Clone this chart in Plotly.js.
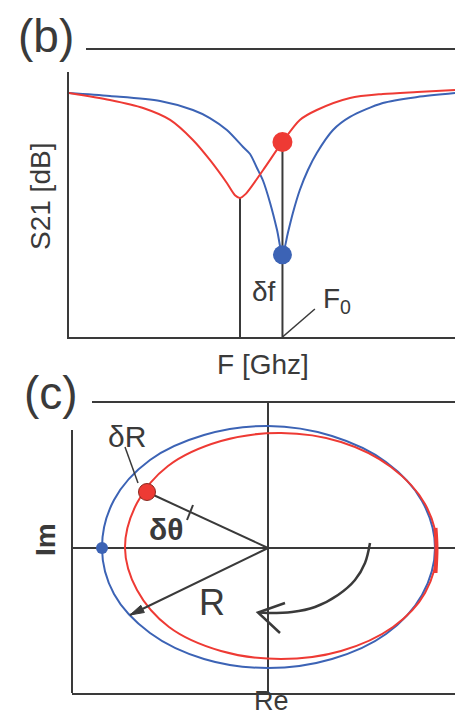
<!DOCTYPE html>
<html>
<head>
<meta charset="utf-8">
<script src="https://cdn.plot.ly/plotly-3.0.1.min.js"></script>
<style>
  html, body { margin: 0; padding: 0; background: #fff; }
  #chart { width: 455px; height: 717px; }
</style>
</head>
<body>
<div id="chart"></div>
<script>
// ---- (b) transmission S21 versus frequency ----
const freqShifted = [0, 1.06, 1.92, 2.62, 3.21, 3.65, 4.09, 4.30, 4.43, 4.58, 5.03, 5.53, 5.98, 6.42, 7.28, 8.13, 9.02, 10];
const s21Shifted  = [-2.38, -3.17, -4.08, -5.43, -7.70, -9.96, -12.57, -13.95, -14.26, -13.8, -11.09, -7.92, -5.43, -4.30, -2.94, -2.49, -2.26, -2.04];

const freqResonant = [0, 1.06, 2.36, 3.21, 3.65, 4.09, 4.51, 4.69, 4.87, 5.03, 5.21, 5.39, 5.53, 5.67, 5.80, 5.98, 6.19, 6.42, 6.84, 7.28, 8.13, 9.02, 10];
const s21Resonant  = [-2.38, -2.72, -3.28, -4.30, -5.21, -6.57, -8.49, -9.28, -10.87, -12.34, -14.83, -17.89, -20.7, -18.23, -15.96, -13.36, -11.09, -9.17, -6.57, -5.09, -3.51, -2.83, -2.38];

const F0 = 5.53;                 // readout frequency
const s21ShiftedAtF0 = -7.92;    // shifted resonance read at F0
const s21ResonantAtF0 = -20.7;   // unshifted resonance read at F0
const fShiftedMin = 4.43;        // shifted resonance dip
const s21ShiftedMin = -14.26;
const s21Floor = -30;
const f0Leader = [[5.53, 6.37], [-30, -26.83]];

// ---- (c) resonance circle in the complex plane ----
const reResonant = [1.67, 1.54, 1.18, 0.64, 0, -0.64, -1.18, -1.54, -1.66, -1.54, -1.18, -0.64, 0, 0.64, 1.18, 1.54, 1.67];
const imResonant = [0, 0.47, 0.86, 1.12, 1.22, 1.13, 0.88, 0.48, 0, -0.46, -0.85, -1.11, -1.20, -1.11, -0.86, -0.47, 0];

const reShifted = [1.69, 1.57, 1.23, 0.73, 0.13, -0.47, -1.00, -1.31, -1.43, -1.31, -0.99, -0.47, 0.13, 0.73, 1.25, 1.57, 1.69];
const imShifted = [0, 0.44, 0.81, 1.06, 1.15, 1.07, 0.82, 0.45, 0, -0.42, -0.79, -1.03, -1.11, -1.03, -0.79, -0.45, 0];
const shiftedSeam = [[1.675, 1.685, 1.675], [0.2, 0, -0.25]];

const pointShifted = [-1.21, 0.56];
const pointResonant = [-1.66, 0.0];
const radiusTip = [-1.38, -0.67];
const radiusHead = [[-1.38, -1.236, -1.272, -1.38], [-0.67, -0.645, -0.573, -0.67]];
const dThetaTick = [[-0.81, -0.75], [0.28, 0.43]];
const dRLeader = [[-1.43, -1.30], [1.01, 0.65]];
const rotationArc = [[1.02, 0.97, 0.87, 0.70, 0.47, 0.24, 0, -0.10], [0.05, -0.15, -0.32, -0.47, -0.59, -0.64, -0.65, -0.645]];
const rotationHead = [[0.17, -0.10, 0.12], [-0.55, -0.645, -0.85]];

const RED = '#ee3a34';
const BLUE = '#3c63b5';
const INK = '#3a3a3a';
const W = 455, H = 717;
const px = x => x / W;
const py = y => 1 - y / H;

const inkLine = (x, y, xa, ya, w) => ({
  x, y, xaxis: xa, yaxis: ya, mode: 'lines', hoverinfo: 'skip',
  line: { color: INK, width: w || 2 }
});

const traces = [
  inkLine([fShiftedMin, fShiftedMin], [s21ShiftedMin, s21Floor], 'x', 'y'),
  inkLine([F0, F0], [s21ShiftedAtF0, s21Floor], 'x', 'y'),
  inkLine(f0Leader[0], f0Leader[1], 'x', 'y', 1.5),
  { x: freqResonant, y: s21Resonant, mode: 'lines', line: { color: BLUE, width: 2, shape: 'spline', smoothing: 0.8 } },
  { x: freqShifted, y: s21Shifted, mode: 'lines', line: { color: RED, width: 2, shape: 'spline', smoothing: 0.8 } },
  { x: [F0], y: [s21ShiftedAtF0], mode: 'markers', marker: { color: RED, size: 20 } },
  { x: [F0], y: [s21ResonantAtF0], mode: 'markers', marker: { color: BLUE, size: 19 } },

  { x: reResonant, y: imResonant, xaxis: 'x2', yaxis: 'y2', mode: 'lines', line: { color: BLUE, width: 2, shape: 'spline', smoothing: 1 } },
  { x: reShifted, y: imShifted, xaxis: 'x2', yaxis: 'y2', mode: 'lines', line: { color: RED, width: 2, shape: 'spline', smoothing: 1 } },
  { x: shiftedSeam[0], y: shiftedSeam[1], xaxis: 'x2', yaxis: 'y2', mode: 'lines', line: { color: RED, width: 4, shape: 'spline' } },
  inkLine([pointShifted[0], 0], [pointShifted[1], 0], 'x2', 'y2'),
  inkLine(dThetaTick[0], dThetaTick[1], 'x2', 'y2'),
  inkLine(dRLeader[0], dRLeader[1], 'x2', 'y2', 1.5),
  inkLine([0, radiusTip[0]], [0, radiusTip[1]], 'x2', 'y2'),
  { x: radiusHead[0], y: radiusHead[1], xaxis: 'x2', yaxis: 'y2', mode: 'lines', fill: 'toself', fillcolor: INK, line: { color: INK, width: 1 } },
  { x: rotationArc[0], y: rotationArc[1], xaxis: 'x2', yaxis: 'y2', mode: 'lines', line: { color: INK, width: 2.5, shape: 'spline', smoothing: 1 } },
  inkLine(rotationHead[0], rotationHead[1], 'x2', 'y2', 2.5),
  { x: [pointShifted[0]], y: [pointShifted[1]], xaxis: 'x2', yaxis: 'y2', mode: 'markers', marker: { color: RED, size: 17, line: { color: '#8a2a20', width: 1 } } },
  { x: [pointResonant[0]], y: [pointResonant[1]], xaxis: 'x2', yaxis: 'y2', mode: 'markers', marker: { color: BLUE, size: 12 } }
];

const hidden = { showgrid: false, showticklabels: false, ticks: '', fixedrange: true };
const font = { family: 'Liberation Sans, Arial, sans-serif', color: INK };
const note = (text, x, y, size, extra) => Object.assign({
  text, x: px(x), y: py(y), xref: 'paper', yref: 'paper', showarrow: false,
  xanchor: 'center', yanchor: 'middle', font: Object.assign({}, font, { size })
}, extra || {});

const layout = {
  width: W, height: H,
  margin: { l: 0, r: 0, t: 0, b: 0 },
  paper_bgcolor: '#fff', plot_bgcolor: 'rgba(0,0,0,0)',
  showlegend: false,
  xaxis: Object.assign({}, hidden, { domain: [px(69), 1], range: [0, 10], showline: true, linecolor: INK, linewidth: 2, zeroline: false, anchor: 'y' }),
  yaxis: Object.assign({}, hidden, { domain: [py(337), py(72)], range: [s21Floor, 0], showline: true, linecolor: INK, linewidth: 2, zeroline: false, anchor: 'x' }),
  xaxis2: Object.assign({}, hidden, { domain: [px(72), 1], range: [-1.96, 1.87], showline: true, linecolor: INK, linewidth: 2, zeroline: true, zerolinecolor: INK, zerolinewidth: 2, anchor: 'y2' }),
  yaxis2: Object.assign({}, hidden, { domain: [py(693), py(402)], range: [-1.45, 1.46], showline: false, zeroline: true, zerolinecolor: INK, zerolinewidth: 2, anchor: 'x2' }),
  shapes: [
    { type: 'line', xref: 'paper', yref: 'paper', x0: px(86), x1: 1, y0: py(49), y1: py(49), line: { color: INK, width: 2 } },
    { type: 'line', xref: 'paper', yref: 'paper', x0: px(92), x1: 1, y0: py(402), y1: py(402), line: { color: INK, width: 2 } },
    { type: 'line', xref: 'paper', yref: 'paper', x0: px(72), x1: px(72), y0: py(430), y1: py(693), line: { color: INK, width: 2 } }
  ],
  annotations: [
    note('(b)', 46, 36, 46),
    note('(c)', 51, 393, 46),
    note('S21 [dB]', 40, 197, 28, { textangle: -90 }),
    note('F [Ghz]', 263, 364, 28),
    note('δf', 264, 292, 28),
    note('F<sub>0</sub>', 321, 300, 28, { xanchor: 'left' }),
    note('δR', 127, 436, 30),
    note('<b>δθ</b>', 166, 529, 30),
    note('R', 212, 602, 36),
    note('Re', 271, 701, 27),
    note('<b>Im</b>', 45, 540, 28, { textangle: -90 })
  ]
};

Plotly.newPlot('chart', traces, layout, { staticPlot: true, displayModeBar: false });
</script>
</body>
</html>
